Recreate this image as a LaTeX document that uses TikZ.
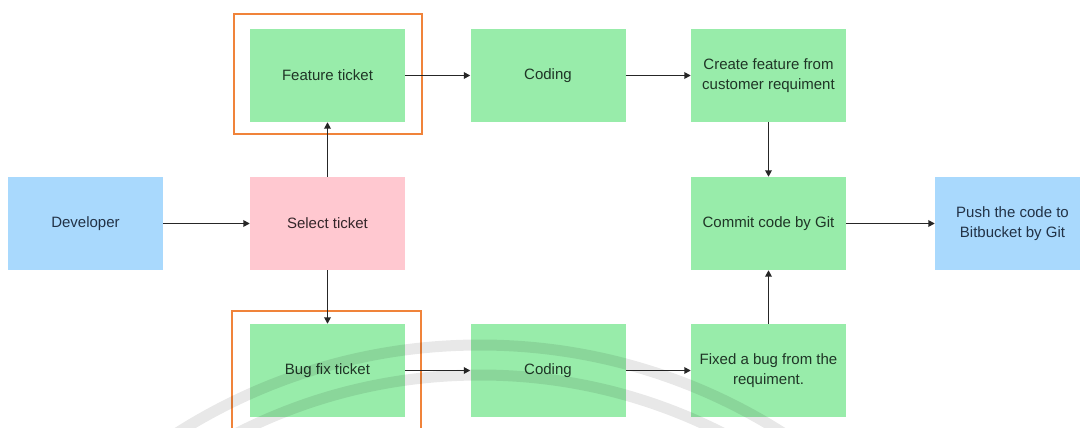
\documentclass[tikz,border=0pt]{standalone}
\usepackage{fontspec}
\setmainfont{Liberation Sans}
\usetikzlibrary{arrows.meta}
\definecolor{boxgreen}{HTML}{98ECAA}
\definecolor{boxblue}{HTML}{A9D9FD}
\definecolor{boxpink}{HTML}{FFC8D0}
\definecolor{frameorange}{HTML}{F0833A}
\definecolor{inkgreen}{HTML}{1F3526}
\definecolor{inkblue}{HTML}{223246}
\definecolor{inkpink}{HTML}{35262A}
\definecolor{linkgray}{HTML}{262626}
\tikzset{
  stepbox/.style={minimum width=155pt, minimum height=93pt, inner sep=0pt,
    align=center, font=\fontsize{15}{20}\selectfont},
  greenbox/.style={stepbox, fill=boxgreen, text=inkgreen},
  bluebox/.style={stepbox, fill=boxblue, text=inkblue},
  pinkbox/.style={stepbox, fill=boxpink, text=inkpink},
  link/.style={draw=linkgray, line width=1.8pt,
    -{Triangle[length=6.5pt, width=6.5pt]}},
  ticketframe/.style={draw=frameorange, line width=2.5pt},
  watermark/.style={draw=black, line width=11pt, opacity=0.09}
}
\begin{document}
\begin{tikzpicture}[x=1pt, y=-1pt]
  \useasboundingbox[fill=white] (0,0) rectangle (1080,428);
  \begin{scope}
    \clip (0,0) rectangle (1080,428);

    % process steps
    \node[bluebox]  (dev)    at (85.5,223.5)  {Developer};
    \node[pinkbox]  (sel)    at (327.5,223.5) {Select ticket};
    \node[greenbox] (feat)   at (327.5,75.5)  {Feature ticket};
    \node[greenbox] (codeA)  at (548,75.5)    {Coding};
    \node[greenbox] (create) at (768.5,75.5)  {Create feature from\\customer requiment};
    \node[greenbox] (commit) at (768.5,223.5) {Commit code by Git};
    \node[bluebox]  (push)   at (1012.5,223.5){Push the code to\\Bitbucket by Git};
    \node[greenbox] (bug)    at (327.5,370.5) {Bug fix ticket};
    \node[greenbox] (codeB)  at (548,370.5)   {Coding};
    \node[greenbox] (fixed)  at (768.5,370.5) {Fixed a bug from the\\requiment.};

    % ticket type frames
    \draw[ticketframe] (234,14) rectangle (422,134);
    \draw[ticketframe] (232,311) rectangle (421,440);

    % connectors
    \draw[link] (dev) -- (sel);
    \draw[link] (sel) -- (feat);
    \draw[link] (sel) -- (bug);
    \draw[link] (feat) -- (codeA);
    \draw[link] (codeA) -- (create);
    \draw[link] (create) -- (commit);
    \draw[link] (bug) -- (codeB);
    \draw[link] (codeB) -- (fixed);
    \draw[link] (fixed) -- (commit);
    \draw[link] (commit) -- (push);

    % faint logo rings along the bottom
    \draw[watermark] (480,910) circle[radius=565];
    \draw[watermark] (480,910) circle[radius=535];
  \end{scope}
\end{tikzpicture}
\end{document}
